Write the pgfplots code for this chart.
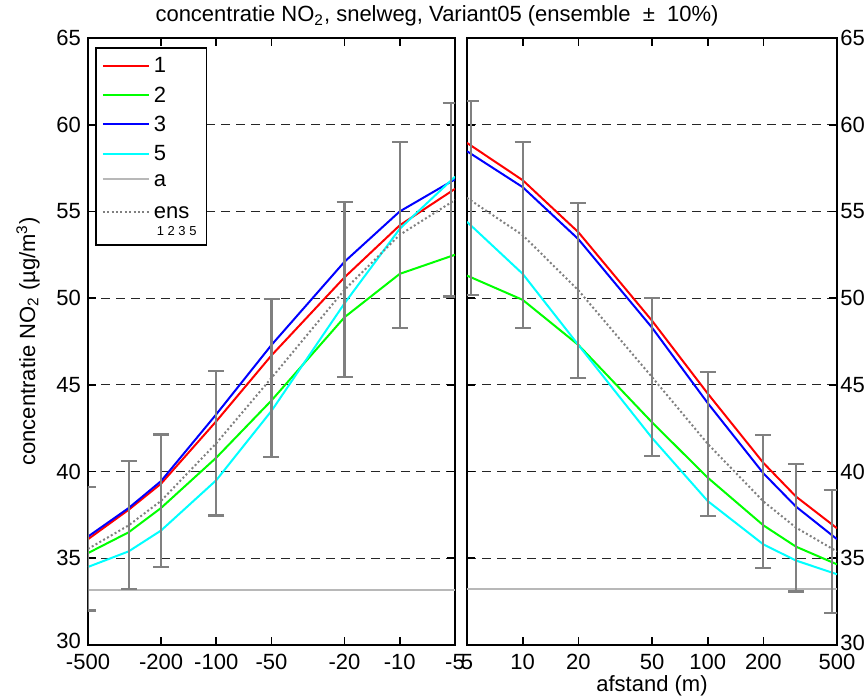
\documentclass[border=0pt]{standalone}
\usepackage{fontspec}
\setmainfont{Liberation Sans}
\usepackage{pgfplots}
\pgfplotsset{compat=1.18}
\definecolor{cA}{rgb}{0.72,0.72,0.72}
\definecolor{cE}{rgb}{0.5,0.5,0.5}
\definecolor{cG}{rgb}{0,1,0}
\definecolor{cC}{rgb}{0,1,1}
\begin{document}
\begin{tikzpicture}
\path[use as bounding box] (-44pt,-27pt) rectangle (388.5pt,322.5pt);
\begin{axis}[name=L, scale only axis, width=183.5pt, height=303.5pt, at={(0pt,0pt)}, anchor=south west,
  xmode=log, xmin=5, xmax=500, x dir=reverse,
  xtick={5,10,20,50,100,200,500},
  xticklabels={-5,-10,-20,-50,-100,-200,-500},
  minor xtick={}, minor ytick={},
  ymin=30, ymax=65, ytick={30,35,40,45,50,55,60,65},
  yticklabels={\raisebox{4.5pt}{30},35,40,45,50,55,60,65},
  ymajorgrids,
  major grid style={black!85, line width=0.45pt, dash pattern=on 4.5pt off 3pt},
  axis line style={line width=1.3pt},
  every tick/.style={black, line width=0.8pt},
  major tick length=4pt,
  xtick pos=both, ytick pos=both,
  font=\fontsize{11}{13}\selectfont,
  /pgf/number format/assume math mode=true,
  xticklabel style={yshift=-1pt},
  ylabel={concentratie NO\textsubscript{2} (µg/m\textsuperscript{3})},
  ylabel style={at={(axis description cs:-0.1308,0.5)}, anchor=south, inner sep=0pt},
  legend style={at={(0,1)}, anchor=north west, xshift=3.5pt, yshift=-4.5pt,
    draw=black, line width=0.8pt, inner xsep=3pt, inner ysep=3pt, row sep=1.5pt,
    font=\fontsize{11}{13}\selectfont, cells={anchor=base west}},
  legend image code/.code={\draw[#1] (0pt,3.6pt) -- (23pt,3.6pt);},
]
\addplot[red, line width=1pt] coordinates {(500,36.1) (300,37.8) (200,39.3) (100,42.9) (50,46.7) (20,51.2) (10,54.2) (5,56.3)};
\addlegendentry{1}
\addplot[cG, line width=1pt] coordinates {(500,35.3) (300,36.5) (200,37.9) (100,40.8) (50,44.1) (20,48.9) (10,51.4) (5,52.5)};
\addlegendentry{2}
\addplot[blue, line width=1pt] coordinates {(500,36.25) (300,37.9) (200,39.45) (100,43.3) (50,47.3) (20,52.1) (10,55.0) (5,56.85)};
\addlegendentry{3}
\addplot[cC, line width=1pt] coordinates {(500,34.5) (300,35.4) (200,36.6) (100,39.5) (50,43.5) (20,49.7) (10,54.0) (5,57.0)};
\addlegendentry{5}
\addplot[cA, line width=1pt] coordinates {(500,33.2) (5,33.2)};
\addlegendentry{a}
\addplot[cE, line width=1pt, dash pattern=on 1pt off 1.2pt] coordinates {(500,35.54) (300,36.9) (200,38.31) (100,41.63) (50,45.4) (20,50.48) (10,53.65) (5,55.66)};
\addlegendentry[text depth=8pt]{\begin{tabular}[t]{@{}l@{}}ens\\[-4.5pt]\hspace{1.5pt}\fontsize{6.5}{7}\selectfont 1 2 3 5\end{tabular}}
\addplot[draw=none, mark=none, forget plot,
    error bars/.cd, y dir=both, y explicit,
    error bar style={line width=1.1pt, draw=cE, solid},
    error mark=-,
    error mark options={rotate=90, line width=1.1pt, mark size=4pt, draw=cE, solid}]
  coordinates {(500,35.54) +- (0,3.55) (300,36.9) +- (0,3.69) (200,38.31) +- (0,3.83) (100,41.63) +- (0,4.16) (50,45.4) +- (0,4.54) (20,50.48) +- (0,5.05) (10,53.65) +- (0,5.37) (5.28,55.66) +- (0,5.57)};
\end{axis}
\begin{axis}[name=R, scale only axis, width=185pt, height=303.5pt, at={(189.5pt,0pt)}, anchor=south west,
  xmode=log, xmin=5, xmax=500,
  xtick={5,10,20,50,100,200,500},
  xticklabels={5,10,20,50,100,200,500},
  minor xtick={}, minor ytick={},
  ymin=30, ymax=65, ytick={30,35,40,45,50,55,60,65},
  yticklabels={\raisebox{2.5pt}{30},35,40,45,50,55,60,65},
  ymajorgrids,
  major grid style={black!85, line width=0.45pt, dash pattern=on 4.5pt off 3pt},
  axis line style={line width=1.3pt},
  every tick/.style={black, line width=0.8pt},
  major tick length=4pt,
  xtick pos=both, ytick pos=both,
  font=\fontsize{11}{13}\selectfont,
  /pgf/number format/assume math mode=true,
  xticklabel style={yshift=-1pt},
  yticklabel pos=right,
  yticklabel style={inner xsep=1.5pt},
  xlabel={afstand (m)},
  xlabel style={at={(axis description cs:0.5,-0.0675)}, anchor=center, inner sep=0pt},
]
\addplot[red, line width=1pt] coordinates {(5,58.95) (10,56.8) (20,53.8) (50,48.7) (100,44.5) (200,40.5) (300,38.56) (500,36.73)};
\addplot[cG, line width=1pt] coordinates {(5,51.3) (10,49.9) (20,47.3) (50,42.84) (100,39.65) (200,36.9) (300,35.67) (500,34.65)};
\addplot[blue, line width=1pt] coordinates {(5,58.47) (10,56.4) (20,53.4) (50,48.3) (100,43.95) (200,39.9) (300,37.98) (500,36.1)};
\addplot[cC, line width=1pt] coordinates {(5,54.4) (10,51.4) (20,47.3) (50,41.94) (100,38.3) (200,35.8) (300,34.87) (500,34.08)};
\addplot[cA, line width=1pt] coordinates {(5,33.2) (500,33.2)};
\addplot[cE, line width=1pt, dash pattern=on 1pt off 1.2pt] coordinates {(5,55.78) (10,53.63) (20,50.45) (50,45.45) (100,41.6) (200,38.28) (300,36.77) (500,35.39)};
\addplot[draw=none, mark=none, forget plot,
    error bars/.cd, y dir=both, y explicit,
    error bar style={line width=1.1pt, draw=cE, solid},
    error mark=-,
    error mark options={rotate=90, line width=1.1pt, mark size=4pt, draw=cE, solid}]
  coordinates {(5.28,55.78) +- (0,5.58) (10,53.63) +- (0,5.36) (20,50.45) +- (0,5.05) (50,45.45) +- (0,4.55) (100,41.6) +- (0,4.16) (200,38.28) +- (0,3.83) (300,36.77) +- (0,3.68) (468,35.39) +- (0,3.54)};
\end{axis}
\node[anchor=base, font=\fontsize{11}{13}\selectfont] at (174.5pt,311.5pt) {concentratie NO\textsubscript{2}, snelweg, Variant05 (ensemble\ \ ±\ \ 10\%)};
\end{tikzpicture}
\end{document}
